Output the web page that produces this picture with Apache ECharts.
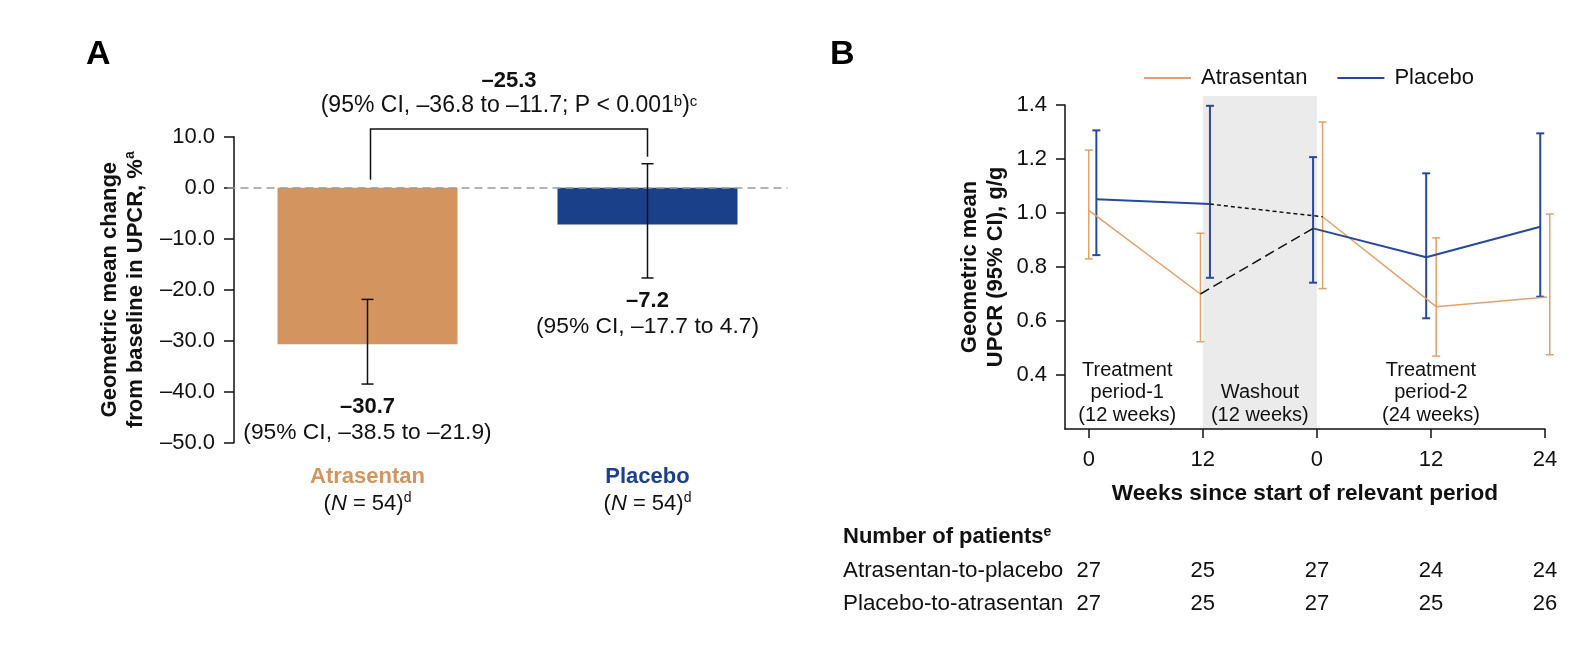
<!DOCTYPE html>
<html><head><meta charset="utf-8">
<script src="https://cdn.jsdelivr.net/npm/echarts@6/dist/echarts.min.js"></script>
<style>html,body{margin:0;padding:0;background:#fff}#c{width:1594px;height:646px}</style>
</head><body><div id="c"></div>
<script>
// ---------- Panel A data ----------
const groupsA = ['Atrasentan', 'Placebo'];
const meanA = [-30.7, -7.2];
const ciLowA = [-38.5, -17.7];
const ciHighA = [-21.9, 4.7];
const nA = [54, 54];
const diffMean = -25.3;
const diffCI = [-36.8, -11.7];
const diffP = '0.001';
const bracketLevelA = 11.5;

// ---------- Panel B data ----------
const tickPosB = [0, 12, 24, 36, 48];          // continuous timeline (weeks)
const weekLabelsB = ['0', '12', '0', '12', '24'];
const yTicksB = [0.4, 0.6, 0.8, 1.0, 1.2, 1.4];
const atrX = [0, 11.75, 24.6, 36.55, 48.5];
const atrMean = [1.01, 0.70, 0.986, 0.653, 0.690];
const atrLo = [0.83, 0.523, 0.72, 0.47, 0.475];
const atrHi = [1.233, 0.925, 1.337, 0.908, 0.996];
const plaX = [0.8, 12.75, 23.6, 35.5, 47.5];
const plaMean = [1.051, 1.033, 0.943, 0.836, 0.949];
const plaLo = [0.844, 0.76, 0.742, 0.61, 0.69];
const plaHi = [1.306, 1.397, 1.207, 1.147, 1.295];
const washout = [12, 24];
const periodNotes = [
  {x: 4.05, text: 'Treatment\nperiod-1\n(12 weeks)'},
  {x: 18, text: 'Washout\n(12 weeks)'},
  {x: 36, text: 'Treatment\nperiod-2\n(24 weeks)'}
];
const rowLabels = ['Atrasentan-to-placebo', 'Placebo-to-atrasentan'];
const nAtrToPla = [27, 25, 27, 24, 24];
const nPlaToAtr = [27, 25, 27, 25, 26];

// ---------- styles ----------
const FONT = '"Liberation Sans", Arial, Helvetica, sans-serif';
const INK = '#111';
const ORANGE_BAR = '#D49460', BLUE_BAR = '#1B408A';
const ORANGE = '#E3A06C', BLUE = '#27499A';
const fmt = v => (v < 0 ? '–' : '') + Math.abs(v).toFixed(1);

const chart = echarts.init(document.getElementById('c'));

function errA(params, api) {
  const i = api.value(0);
  const lo = api.value(1), hi = api.value(2), m = api.value(3);
  const pL = api.coord([i, lo]), pH = api.coord([i, hi]);
  const x = pL[0], cap = 6;
  const ls = {stroke: INK, lineWidth: 1.5};
  return {type: 'group', children: [
    {type: 'line', shape: {x1: x, y1: pL[1], x2: x, y2: pH[1]}, style: ls},
    {type: 'line', shape: {x1: x - cap, y1: pL[1], x2: x + cap, y2: pL[1]}, style: ls},
    {type: 'line', shape: {x1: x - cap, y1: pH[1], x2: x + cap, y2: pH[1]}, style: ls},
    {type: 'text', style: {text: fmt(m), x: x, y: pL[1] + 23, align: 'center', verticalAlign: 'middle',
      font: 'bold 22px ' + FONT, fill: INK}},
    {type: 'text', style: {text: '(95% CI, ' + fmt(lo) + ' to ' + fmt(hi) + ')', x: x, y: pL[1] + 49,
      align: 'center', verticalAlign: 'middle', font: '22.8px ' + FONT, fill: INK}}
  ]};
}

function bracketA(params, api) {
  const top = api.coord([0, api.value(2)])[1];
  const xl = api.coord([0, 0])[0] + 3, yl = api.coord([0, 0])[1] - 8;
  const xr = api.coord([1, 0])[0], yr = api.coord([1, ciHighA[1]])[1] - 7;
  const ls = {stroke: INK, lineWidth: 1.5, fill: null};
  const mid = (xl + xr) / 2;
  return {type: 'group', children: [
    {type: 'polyline', shape: {points: [[xl, yl], [xl, top], [xr, top], [xr, yr]]}, style: ls},
    {type: 'text', style: {text: fmt(diffMean), x: mid, y: top - 48, align: 'center', verticalAlign: 'middle',
      font: 'bold 22px ' + FONT, fill: INK}},
    {type: 'text', style: {
      text: '{t|(95% CI, ' + fmt(diffCI[0]) + ' to ' + fmt(diffCI[1]) + '; P < ' + diffP + '}{s|b}{t|)}{s|c}',
      x: mid, y: top - 23, align: 'center', verticalAlign: 'middle',
      rich: {t: {fontSize: 23, fontFamily: FONT, fill: INK, lineHeight: 24, verticalAlign: 'middle'},
             s: {fontSize: 15, fontFamily: FONT, fill: INK, lineHeight: 14, verticalAlign: 'top'}}}}
  ]};
}

function errB(color, w) {
  return function (params, api) {
    const x = api.value(0), lo = api.value(1), hi = api.value(2);
    const pL = api.coord([x, lo]), pH = api.coord([x, hi]);
    const cap = 4, ls = {stroke: color, lineWidth: w};
    return {type: 'group', children: [
      {type: 'line', shape: {x1: pL[0], y1: pL[1], x2: pH[0], y2: pH[1]}, style: ls},
      {type: 'line', shape: {x1: pL[0] - cap, y1: pL[1], x2: pL[0] + cap, y2: pL[1]}, style: ls},
      {type: 'line', shape: {x1: pH[0] - cap, y1: pH[1], x2: pH[0] + cap, y2: pH[1]}, style: ls}
    ]};
  };
}

const option = {
  backgroundColor: '#fff',
  animation: false,
  textStyle: {fontFamily: FONT},
  legend: {
    data: ['Atrasentan', 'Placebo'], left: 1139, top: 62, icon: 'rect',
    itemWidth: 47, itemHeight: 2, itemGap: 30, selectedMode: false,
    textStyle: {fontSize: 22, color: INK, fontFamily: FONT, padding: [0, 0, 0, 5]}
  },
  grid: [
    {left: 227.5, top: 136.7, width: 560, height: 306},
    {left: 1065, top: 105, width: 480, height: 324}
  ],
  xAxis: [
    {gridIndex: 0, type: 'category', data: groupsA, axisLine: {show: false, onZero: false}, axisTick: {show: false},
     axisLabel: {margin: 21, interval: 0,
       formatter: (v, i) => '{a' + i + '|' + v + '}\n{n|(}{i|N}{n| = ' + nA[i] + ')}{s|d}',
       rich: {
         a0: {fontSize: 22, fontWeight: 'bold', color: ORANGE_BAR, lineHeight: 27, fontFamily: FONT},
         a1: {fontSize: 22, fontWeight: 'bold', color: '#1D3F8C', lineHeight: 27, fontFamily: FONT},
         n: {fontSize: 22, color: INK, lineHeight: 27, fontFamily: FONT},
         i: {fontSize: 22, color: INK, fontStyle: 'italic', lineHeight: 27, fontFamily: FONT},
         s: {fontSize: 14, color: INK, lineHeight: 16, verticalAlign: 'top', fontFamily: FONT}
       }}},
    {gridIndex: 1, type: 'value', min: -2.5, max: 48,
     axisLine: {onZero: false, lineStyle: {color: INK, width: 1.5}},
     axisTick: {length: 9, lineStyle: {color: INK, width: 1.5}, customValues: tickPosB},
     axisLabel: {customValues: tickPosB, fontSize: 22, color: INK, margin: 20,
       formatter: v => weekLabelsB[tickPosB.indexOf(v)]},
     splitLine: {show: false},
     name: 'Weeks since start of relevant period', nameLocation: 'middle', nameGap: 53,
     nameTextStyle: {fontSize: 22.6, fontWeight: 'bold', color: INK, fontFamily: FONT}}
  ],
  yAxis: [
    {gridIndex: 0, type: 'value', min: -50, max: 10, interval: 10, offset: -6.5,
     axisLine: {show: true, onZero: false, lineStyle: {color: INK, width: 1.5}},
     axisTick: {show: true, length: 10, lineStyle: {color: INK, width: 1.5}},
     axisLabel: {fontSize: 22, color: INK, margin: 19, formatter: v => fmt(v)},
     splitLine: {show: false},
     name: '{b|Geometric mean change}\n{b|from baseline in UPCR, %}{s|a}',
     nameLocation: 'middle', nameGap: 85, nameRotate: 90,
     nameTextStyle: {rich: {
       b: {fontSize: 22, fontWeight: 'bold', color: INK, lineHeight: 26, fontFamily: FONT},
       s: {fontSize: 14, fontWeight: 'bold', color: INK, lineHeight: 14, verticalAlign: 'top', fontFamily: FONT}}}},
    {gridIndex: 1, type: 'value', min: 0.2, max: 1.4,
     axisLine: {show: true, onZero: false, lineStyle: {color: INK, width: 1.5}},
     axisTick: {show: true, length: 9, lineStyle: {color: INK, width: 1.5}, customValues: yTicksB},
     axisLabel: {customValues: yTicksB, fontSize: 22, color: INK, margin: 18, formatter: v => v.toFixed(1)},
     splitLine: {show: false},
     name: 'Geometric mean\nUPCR (95% CI), g/g', nameLocation: 'middle', nameGap: 56, nameRotate: 90,
     nameTextStyle: {fontSize: 22, fontWeight: 'bold', color: INK, lineHeight: 26, fontFamily: FONT}}
  ],
  graphic: [
    {type: 'text', left: 86, top: 38, style: {text: 'A', font: 'bold 34px ' + FONT, fill: '#000'}},
    {type: 'text', left: 830, top: 38, style: {text: 'B', font: 'bold 34px ' + FONT, fill: '#000'}},
    {type: 'text', x: 843, y: 537, style: {text: '{b|Number of patients}{s|e}', verticalAlign: 'middle',
      rich: {b: {fontSize: 22, fontWeight: 'bold', fontFamily: FONT, fill: INK, lineHeight: 24},
             s: {fontSize: 14, fontWeight: 'bold', fontFamily: FONT, fill: INK, lineHeight: 14, verticalAlign: 'top'}}}},
    {type: 'text', x: 843, y: 571, style: {text: rowLabels[0], verticalAlign: 'middle', font: '22.4px ' + FONT, fill: INK}},
    {type: 'text', x: 843, y: 603.5, style: {text: rowLabels[1], verticalAlign: 'middle', font: '22.4px ' + FONT, fill: INK}}
  ],
  series: [
    {name: 'barA', type: 'bar', xAxisIndex: 0, yAxisIndex: 0, barWidth: 180, z: 2,
     data: meanA.map((v, i) => ({value: v, itemStyle: {color: i === 0 ? ORANGE_BAR : BLUE_BAR}})),
     markLine: {silent: true, symbol: 'none', label: {show: false},
       lineStyle: {color: '#9a9a9a', type: [8, 5], width: 1.5}, data: [{yAxis: 0}]}},
    {name: 'errA', type: 'custom', xAxisIndex: 0, yAxisIndex: 0, clip: false, z: 10, renderItem: errA,
     data: meanA.map((m, i) => [i, ciLowA[i], ciHighA[i], m])},
    {name: 'bracketA', type: 'custom', xAxisIndex: 0, yAxisIndex: 0, clip: false, z: 10, renderItem: bracketA,
     data: [[0, 1, bracketLevelA]]},
    {name: 'washout', type: 'custom', xAxisIndex: 1, yAxisIndex: 1, clip: false, z: -1,
     renderItem: (p, api) => {
       const a = api.coord([api.value(0), 0.2]), b = api.coord([api.value(1), 1.4]);
       return {type: 'rect', shape: {x: a[0], y: b[1] - 9, width: b[0] - a[0], height: a[1] - b[1] + 9},
               style: {fill: '#EBEBEB'}};
     }, data: [washout]},
    {name: 'notesB', type: 'custom', xAxisIndex: 1, yAxisIndex: 1, clip: false,
     renderItem: (p, api) => {
       const n = periodNotes[p.dataIndex];
       const q = api.coord([api.value(0), 0.2]);
       return {type: 'text', style: {text: n.text, x: q[0], y: q[1] - 2.5, align: 'center', verticalAlign: 'bottom',
         font: '20px ' + FONT, lineHeight: 22.5, fill: INK}};
     }, data: periodNotes.map(n => [n.x, 0.3])},
    {name: 'Atrasentan', type: 'line', xAxisIndex: 1, yAxisIndex: 1, symbol: 'none', clip: false,
     color: ORANGE, lineStyle: {color: ORANGE, width: 1.5},
     data: [0, 1].map(i => [atrX[i], atrMean[i]])},
    {name: 'Atrasentan', type: 'line', xAxisIndex: 1, yAxisIndex: 1, symbol: 'none', clip: false,
     color: ORANGE, lineStyle: {color: ORANGE, width: 1.5},
     data: [2, 3, 4].map(i => [atrX[i], atrMean[i]])},
    {name: 'Placebo', type: 'line', xAxisIndex: 1, yAxisIndex: 1, symbol: 'none', clip: false,
     color: BLUE, lineStyle: {color: BLUE, width: 2},
     data: [0, 1].map(i => [plaX[i], plaMean[i]])},
    {name: 'Placebo', type: 'line', xAxisIndex: 1, yAxisIndex: 1, symbol: 'none', clip: false,
     color: BLUE, lineStyle: {color: BLUE, width: 2},
     data: [2, 3, 4].map(i => [plaX[i], plaMean[i]])},
    {name: 'switchPA', type: 'line', xAxisIndex: 1, yAxisIndex: 1, symbol: 'none', clip: false,
     lineStyle: {color: INK, width: 1.5, type: [4, 3]},
     data: [[plaX[1], plaMean[1]], [atrX[2], atrMean[2]]]},
    {name: 'switchAP', type: 'line', xAxisIndex: 1, yAxisIndex: 1, symbol: 'none', clip: false,
     lineStyle: {color: INK, width: 1.5, type: [10, 5]},
     data: [[atrX[1], atrMean[1]], [plaX[2], plaMean[2]]]},
    {name: 'errAtr', type: 'custom', xAxisIndex: 1, yAxisIndex: 1, clip: false, renderItem: errB(ORANGE, 1.5),
     data: atrX.map((x, i) => [x, atrLo[i], atrHi[i]])},
    {name: 'errPla', type: 'custom', xAxisIndex: 1, yAxisIndex: 1, clip: false, renderItem: errB(BLUE, 2),
     data: plaX.map((x, i) => [x, plaLo[i], plaHi[i]])},
    {name: 'table', type: 'custom', xAxisIndex: 1, yAxisIndex: 1, clip: false,
     renderItem: (p, api) => {
       const q = api.coord([api.value(0), 0.2]);
       return {type: 'group', children: [
         {type: 'text', style: {text: String(api.value(1)), x: q[0], y: q[1] + 142, align: 'center',
           verticalAlign: 'middle', font: '22px ' + FONT, fill: INK}},
         {type: 'text', style: {text: String(api.value(2)), x: q[0], y: q[1] + 174.5, align: 'center',
           verticalAlign: 'middle', font: '22px ' + FONT, fill: INK}}
       ]};
     }, data: tickPosB.map((x, i) => [x, nAtrToPla[i], nPlaToAtr[i]])}
  ]
};
chart.setOption(option);
</script></body></html>
